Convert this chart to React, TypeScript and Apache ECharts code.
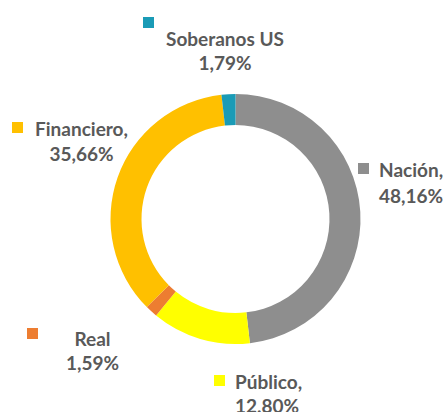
import React, { useEffect, useRef } from "react";
import * as echarts from "echarts";

const names = ["Nación", "Público", "Real", "Financiero", "Soberanos US"];
const values = [48.16, 12.8, 1.59, 35.66, 1.79];
const labelNames = ["Nación,", "Público,", "Real", "Financiero,", "Soberanos US"];
const colors = ["#8E8E8E", "#FFFF00", "#ED7D31", "#FFC000", "#1A9BB6"];

// label layout: marker box, text x, first/second line centre y
const layout = [
  { mx: 358, my: 163, tx: 379, y1: 169, y2: 195, align: "left" },
  { mx: 214, my: 375, tx: 235, y1: 381, y2: 405, align: "left" },
  { mx: 27, my: 328, tx: 92.5, y1: 338, y2: 362, align: "center" },
  { mx: 12, my: 122, tx: 81.5, y1: 128, y2: 153, align: "center" },
  { mx: 143, my: 17, tx: 225, y1: 38, y2: 62, align: "center" },
];

const fmt = (v: number) => v.toFixed(2).replace(".", ",") + "%";

export default function App() {
  const ref = useRef<HTMLDivElement>(null);
  useEffect(() => {
    if (!ref.current) return;
    const chart = echarts.init(ref.current, undefined, { renderer: "svg" });
    const graphics: any[] = [];
    const font = 'bold 19px Lato';
    names.forEach((_, i) => {
      const l = layout[i];
      graphics.push({
        type: "rect",
        left: l.mx,
        top: l.my,
        shape: { width: 11, height: 11 },
        style: { fill: colors[i] },
      });
      [labelNames[i], fmt(values[i])].forEach((t, k) => {
        graphics.push({
          type: "text",
          x: l.tx,
          y: k === 0 ? l.y1 : l.y2,
          style: {
            text: t,
            fill: "#595959",
            font,
            align: l.align,
            verticalAlign: "middle",
          },
        });
      });
    });
    chart.setOption({
      animation: false,
      backgroundColor: "#ffffff",
      series: [
        {
          type: "pie",
          center: [235.5, 219],
          radius: [94, 125],
          startAngle: 90,
          clockwise: true,
          label: { show: false },
          labelLine: { show: false },
          itemStyle: { borderWidth: 0 },
          data: names.map((n, i) => ({
            name: n,
            value: values[i],
            itemStyle: { color: colors[i] },
          })),
        },
      ],
      graphic: graphics,
    });
    return () => chart.dispose();
  }, []);
  return (
    <div
      ref={ref}
      style={{ position: "fixed", left: 0, top: 0, width: 448, height: 412 }}
    />
  );
}
